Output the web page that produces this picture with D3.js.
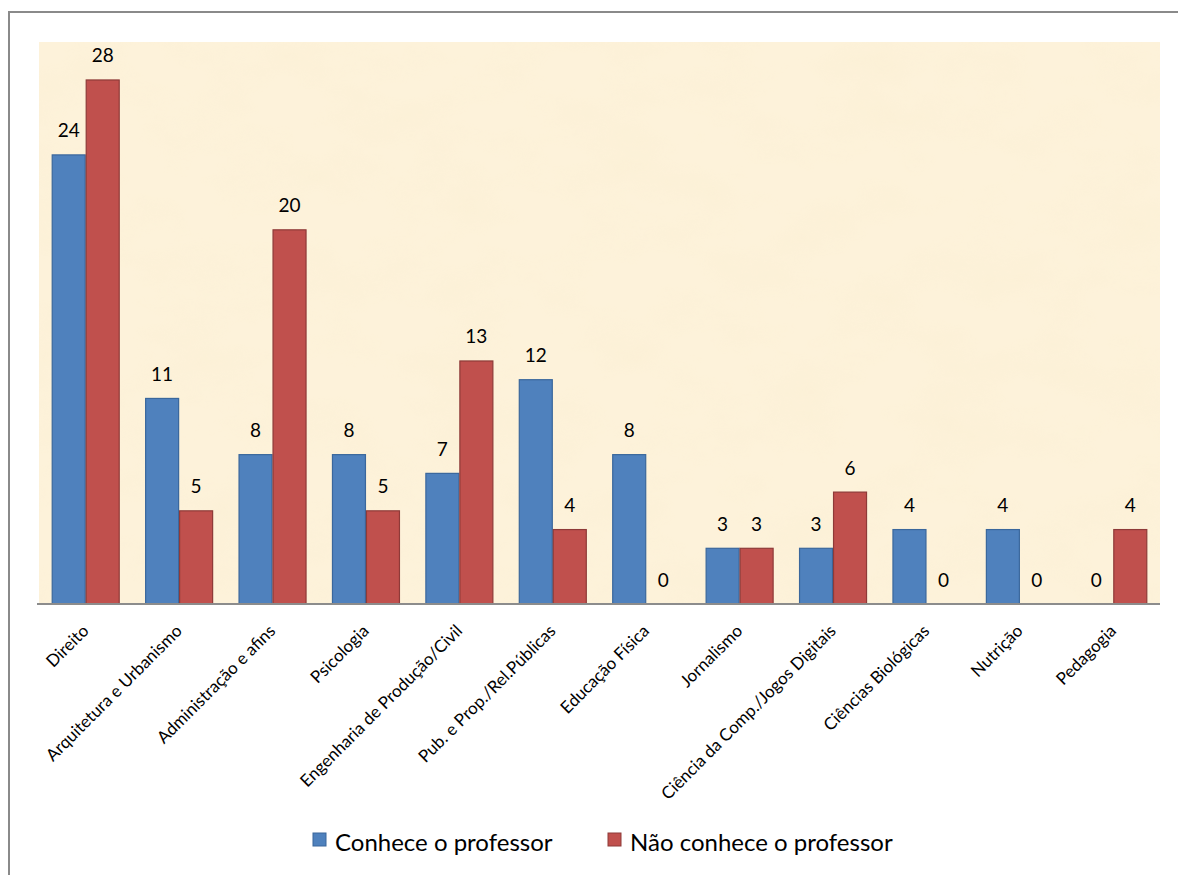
<!DOCTYPE html>
<html>
<head>
<meta charset="utf-8">
<script src="https://cdn.jsdelivr.net/npm/d3@7"></script>
<style>
  html, body { margin: 0; padding: 0; background: #ffffff; }
  svg { display: block; }
</style>
</head>
<body>
<svg id="chart" width="1178" height="875"></svg>
<script>
const categories = [
  "Direito", "Arquitetura e Urbanismo", "Administração e afins", "Psicologia",
  "Engenharia de Produção/Civil", "Pub. e Prop./Rel.Públicas", "Educação Física",
  "Jornalismo", "Ciência da Comp./Jogos Digitais", "Ciências Biológicas",
  "Nutrição", "Pedagogia"
];
const seriesNames = ["Conhece o professor", "Não conhece o professor"];
const conhece    = [24, 11, 8, 8, 7, 12, 8, 3, 3, 4, 4, 0];
const naoConhece = [28, 5, 20, 5, 13, 4, 0, 3, 6, 0, 0, 4];
const seriesColors = ["#4F81BD", "#C0504D"];
const seriesStroke = ["#3A679C", "#8E3A38"];

const svg = d3.select("#chart");
const plot = { left: 39, right: 1160, top: 42, bottom: 604 };

// outer chart border (clipped by window at right/bottom)
svg.append("rect")
  .attr("x", 9).attr("y", 12)
  .attr("width", 1200).attr("height", 900)
  .attr("fill", "#ffffff")
  .attr("stroke", "#8a8a8a").attr("stroke-width", 2);

// parchment texture
const defs = svg.append("defs");
const f = defs.append("filter").attr("id", "parch")
  .attr("x", 0).attr("y", 0).attr("width", "100%").attr("height", "100%");
f.append("feTurbulence").attr("type", "fractalNoise")
  .attr("baseFrequency", "0.012 0.02").attr("numOctaves", 4).attr("seed", 7).attr("result", "noise");
f.append("feColorMatrix").attr("in", "noise").attr("type", "matrix")
  .attr("values", "0 0 0 0 0.93  0 0 0 0 0.82  0 0 0 0 0.58  1.1 0 0 0 -0.45")
  .attr("result", "tint");
f.append("feComposite").attr("in", "tint").attr("in2", "SourceGraphic").attr("operator", "in");

svg.append("rect")
  .attr("x", plot.left).attr("y", plot.top)
  .attr("width", plot.right - plot.left).attr("height", plot.bottom - plot.top)
  .attr("fill", "#FDF2DA");
svg.append("rect")
  .attr("x", plot.left).attr("y", plot.top)
  .attr("width", plot.right - plot.left).attr("height", plot.bottom - plot.top)
  .attr("fill", "#FDF2DA")
  .attr("filter", "url(#parch)")
  .attr("opacity", 0.35);

const x0 = d3.scaleBand().domain(categories).range([plot.left, plot.right]).padding(0);
const x1 = d3.scaleBand().domain([0, 1]).range([0, x0.bandwidth()]).paddingInner(0).paddingOuter(0.374);
const y = d3.scaleLinear().domain([0, 30]).range([plot.bottom, plot.top]);

const data = categories.map((c, i) => ({ cat: c, vals: [conhece[i], naoConhece[i]] }));

const groups = svg.append("g").selectAll("g").data(data).join("g")
  .attr("transform", d => `translate(${x0(d.cat)},0)`);

groups.selectAll("rect").data(d => d.vals.map((v, s) => ({ v, s }))).join("rect")
  .filter(d => d.v > 0)
  .attr("x", d => x1(d.s) + 0.5)
  .attr("y", d => y(d.v) + 0.5)
  .attr("width", x1.bandwidth() - 1)
  .attr("height", d => y(0) - y(d.v) - 0.5)
  .attr("fill", d => seriesColors[d.s])
  .attr("stroke", d => seriesStroke[d.s])
  .attr("stroke-width", 1.2);

groups.selectAll("text.val").data(d => d.vals.map((v, s) => ({ v, s }))).join("text")
  .attr("class", "val")
  .attr("x", d => x1(d.s) + x1.bandwidth() / 2)
  .attr("y", d => y(d.v) - 17)
  .attr("text-anchor", "middle")
  .attr("font-family", "Lato, 'Open Sans', sans-serif")
  .attr("font-size", 19)
  .attr("fill", "#000")
  .text(d => d.v);

// x axis
const xAxis = d3.axisBottom(x0).tickSize(0).tickPadding(0);
const gx = svg.append("g").attr("transform", `translate(0,${plot.bottom})`).call(xAxis);
gx.select(".domain").attr("d", `M${plot.left - 2},0H${plot.right}`)
  .attr("stroke", "#8c8c8c").attr("stroke-width", 2);
gx.selectAll(".tick text")
  .attr("font-family", "Lato, 'Open Sans', sans-serif")
  .attr("font-size", 17)
  .attr("fill", "#000")
  .attr("text-anchor", "end")
  .attr("dy", 0)
  .attr("transform", "translate(4,28) rotate(-45)");

// legend
const legend = svg.append("g");
const legendX = [313, 608];
seriesNames.forEach((name, i) => {
  legend.append("rect")
    .attr("x", legendX[i]).attr("y", 833)
    .attr("width", 13).attr("height", 13)
    .attr("fill", seriesColors[i])
    .attr("stroke", seriesStroke[i]).attr("stroke-width", 1);
  legend.append("text")
    .attr("x", legendX[i] + 22).attr("y", 851)
    .attr("font-family", "Lato, 'Open Sans', sans-serif")
    .attr("font-size", 24)
    .attr("fill", "#000")
    .text(name);
});
</script>
</body>
</html>
